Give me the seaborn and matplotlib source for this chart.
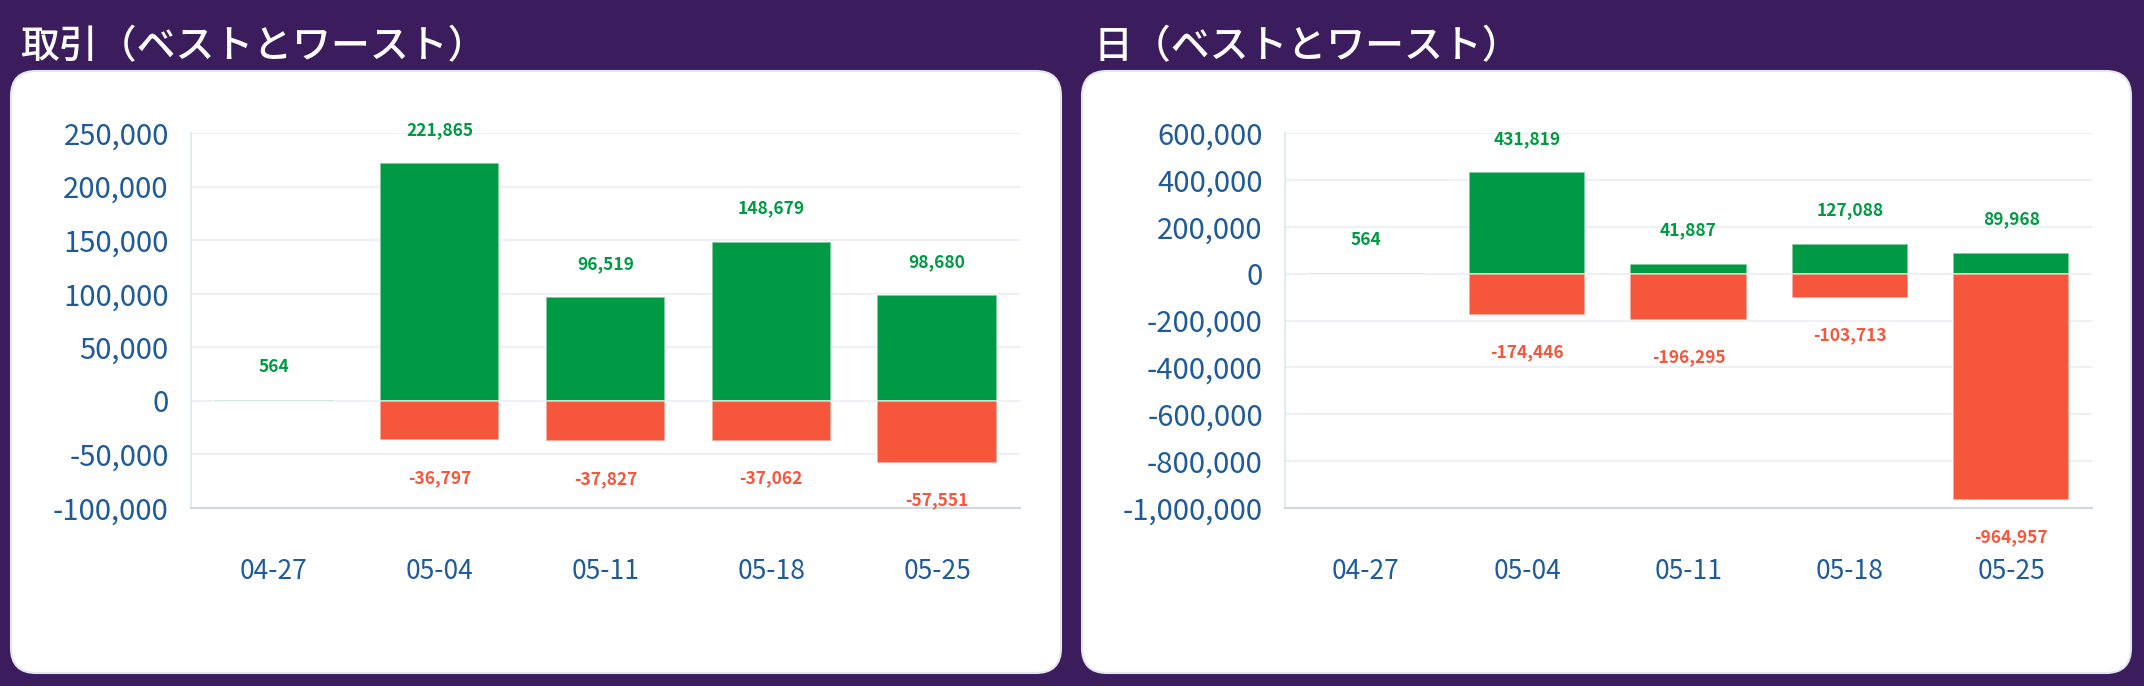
import numpy as np
import pandas as pd
import matplotlib
matplotlib.use("Agg")
import matplotlib.pyplot as plt
from matplotlib.patches import FancyBboxPatch
from matplotlib.ticker import FuncFormatter, MultipleLocator
import seaborn as sns


WEEKS = ['04-27', '05-04', '05-11', '05-18', '05-25']

TRADE_BEST = [564, 221865, 96519, 148679, 98680]
TRADE_WORST = [0, -36797, -37827, -37062, -57551]

DAY_BEST = [564, 431819, 41887, 127088, 89968]
DAY_WORST = [0, -174446, -196295, -103713, -964957]

TITLES = ['取引（ベストとワースト）', '日（ベストとワースト）']

BG = '#3B1D5D'
GREEN = '#009A44'
RED = '#F5563C'
TEXT_BLUE = '#1F5B98'
GRID = '#EDF0F4'


def build_frame(best, worst):
    """Long table: one row per week and kind."""
    rows = []
    for w, b, s in zip(WEEKS, best, worst):
        rows.append({'week': w, 'value': b, 'kind': 'best'})
        rows.append({'week': w, 'value': s, 'kind': 'worst'})
    return pd.DataFrame(rows)


def draw_panel(ax, best, worst, ylim, step):
    df = build_frame(best, worst)
    sns.barplot(
        data=df, x='week', y='value', hue='kind', order=WEEKS,
        hue_order=['best', 'worst'], dodge=False,
        palette={'best': GREEN, 'worst': RED}, saturation=1,
        width=0.72, edgecolor=(1, 1, 1, 0.6), linewidth=1.2,
        legend=False, ax=ax
    )

    for i, (b, s) in enumerate(zip(best, worst)):
        if b:
            ax.annotate(f"{b:,}", xy=(i, b), xytext=(0, 24),
                        textcoords='offset points', ha='center', va='center',
                        fontsize=12.5, fontweight='bold', color=GREEN)
        if s:
            ax.annotate(f"{s:,}", xy=(i, s), xytext=(0, -27),
                        textcoords='offset points', ha='center', va='center',
                        fontsize=12.5, fontweight='bold', color=RED,
                        annotation_clip=False)

    ax.set_xlim(-0.5, len(WEEKS) - 0.5)
    ax.set_ylim(*ylim)
    ax.yaxis.set_major_locator(MultipleLocator(step))
    ax.yaxis.set_major_formatter(FuncFormatter(lambda v, _: f"{v:,.0f}"))
    ax.set_xlabel('')
    ax.set_ylabel('')
    ax.set_facecolor('white')
    ax.grid(axis='y', color=GRID, linewidth=1.5)
    ax.set_axisbelow(True)

    ax.tick_params(axis='y', length=11, width=1.5, color=GRID, pad=5,
                   labelsize=21, labelcolor=TEXT_BLUE)
    ax.tick_params(axis='x', length=0, pad=36,
                   labelsize=19, labelcolor=TEXT_BLUE)

    for side in ['top', 'right']:
        ax.spines[side].set_visible(False)
    ax.spines['left'].set_color('#E2EBED')
    ax.spines['left'].set_linewidth(1.5)
    ax.spines['bottom'].set_color('#D3D8DF')
    ax.spines['bottom'].set_linewidth(1.5)


sns.set_theme(style='white')
plt.rcParams['font.family'] = ['Noto Sans CJK JP', 'DejaVu Sans']

W, H = 2144, 686
fig = plt.figure(figsize=(W / 100, H / 100), dpi=100, facecolor=BG)

# white cards, in pixels
cards = [(11, 71, 1061, 673), (1082, 71, 2131, 673)]
for x0, y0, x1, y1 in cards:
    card = FancyBboxPatch(
        (x0 / 100, (H - y1) / 100), (x1 - x0) / 100, (y1 - y0) / 100,
        boxstyle='round,pad=0,rounding_size=0.25',
        transform=fig.dpi_scale_trans, facecolor='white',
        edgecolor='#E3E6EC', linewidth=1.5, zorder=-5
    )
    fig.patches.append(card)

title_x = [20, 1094]
for tx, t in zip(title_x, TITLES):
    fig.text(tx / W, 1 - 47 / H, t, color='white', fontsize=28,
             fontweight='medium', ha='left', va='center')

ax1 = fig.add_axes([191 / W, 1 - 508 / H, (1020 - 191) / W, (508 - 133) / H])
ax2 = fig.add_axes([1285 / W, 1 - 508 / H, (2092 - 1285) / W, (508 - 133) / H])

draw_panel(ax1, TRADE_BEST, TRADE_WORST, (-100000, 250000), 50000)
draw_panel(ax2, DAY_BEST, DAY_WORST, (-1000000, 600000), 200000)

fig.savefig('out.png', dpi=100, facecolor=BG)
